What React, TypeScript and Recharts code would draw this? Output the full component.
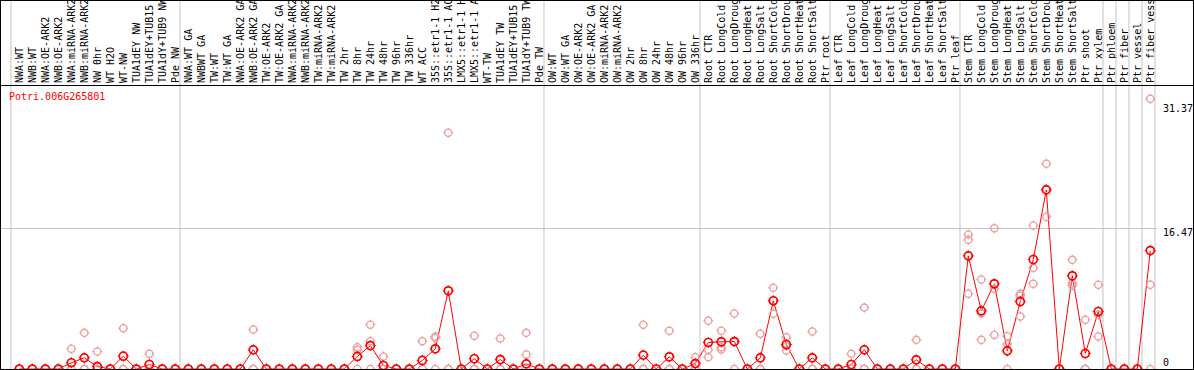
import React from "react";
import { ComposedChart, Line, XAxis, YAxis, ReferenceLine } from "recharts";

const gene = "Potri.006G265801";

const categories = [
  // NW block
  "NWA:WT", "NWB:WT", "NWA:OE-ARK2", "NWB:OE-ARK2", "NWA:miRNA-ARK2", "NWB:miRNA-ARK2",
  "NW 0hr", "WT H2O", "WT-NW", "TUA1dEY NW", "TUA1dEY+TUB15 NW", "TUA1dY+TUB9 NW", "Pde NW",
  // TW block
  "NWA:WT GA", "NWBWT GA", "TW:WT", "TW:WT GA", "NWA:OE-ARK2 GA", "NWB:OE-ARK2 GA",
  "TW:OE-ARK2", "TW:OE-ARK2 GA", "NWA:miRNA-ARK2", "NWB:miRNA-ARK2", "TW:miRNA-ARK2",
  "TW:miRNA-ARK2", "TW 2hr", "TW 8hr", "TW 24hr", "TW 48hr", "TW 96hr", "TW 336hr", "WT ACC",
  "35S::etr1-1 H2O", "35S::etr1-1 ACC", "LMX5::etr1-1 H2O", "LMX5::etr1-1 ACC", "WT-TW",
  "TUA1dEY TW", "TUA1dEY+TUB15 TW", "TUA1dY+TUB9 TW", "Pde TW",
  // OW block
  "OW:WT", "OW:WT GA", "OW:OE-ARK2", "OW:OE-ARK2 GA", "OW:miRNA-ARK2", "OW:miRNA-ARK2",
  "OW 2hr", "OW 8hr", "OW 24hr", "OW 48hr", "OW 96hr", "OW 336hr",
  // root
  "Root CTR", "Root LongCold", "Root LongDrought", "Root LongHeat", "Root LongSalt",
  "Root ShortCold", "Root ShortDrought", "Root ShortHeat", "Root ShortSalt", "Ptr root",
  // leaf
  "Leaf CTR", "Leaf LongCold", "Leaf LongDrought", "Leaf LongHeat", "Leaf LongSalt",
  "Leaf ShortCold", "Leaf ShortDrought", "Leaf ShortHeat", "Leaf ShortSalt", "Ptr leaf",
  // stem
  "Stem CTR", "Stem LongCold", "Stem LongDrought", "Stem LongHeat", "Stem LongSalt",
  "Stem ShortCold", "Stem ShortDrought", "Stem ShortHeat", "Stem ShortSalt", "Ptr shoot",
  "Ptr xylem",
  "Ptr phloem",
  "Ptr fiber",
  "Ptr vessel",
  "Ptr fiber vessel",
];

// mean expression per sample
const means = [
  0, 0, 0, 0, 0.73, 1.31, 0.29, 0, 1.5, 0, 0.53, 0, 0,
  0, 0, 0, 0, 0, 2.25, 0, 0, 0, 0, 0, 0, 0, 1.47, 2.75, 0.41, 0, 0, 1.0, 2.37, 9.17, 0, 1.2, 0, 1.11, 0, 0.6, 0,
  0, 0, 0, 0, 0, 0, 0, 1.62, 0, 1.43, 0, 0.64,
  3.11, 3.19, 3.22, 0, 1.31, 8.0, 2.87, 0, 1.31, 0,
  0, 0.53, 2.25, 0, 0, 0, 1.08, 0, 0, 0,
  13.27, 6.82, 9.99, 2.13, 7.91, 12.84, 21.0, 0, 10.93, 1.82, 6.74,
  0,
  0,
  0,
  13.89,
];

// replicates
const rep1 = [
  0, 0, 0, 0, 2.37, 4.24, 2.05, 0, 4.78, 0, 1.78, 0, 0,
  0, 0, 0, 0, 0, 4.63, 0, 0, 0, 0, 0, 0, 0, 2.56, 5.2, 1.47, 0, 0, 3.26, 3.81, 27.7, 0, 3.89, 0, 3.58, 0, 4.24, 0,
  0, 0, 0, 0, 0, 0, 0, 5.18, 0, 4.48, 0, 1.38,
  5.65, 4.48, 6.5, 0, 4.13, 9.52, 3.73, 0, 4.4, 0,
  0, 1.78, 7.2, 0, 0, 0, 3.42, 0, 0, 0,
  15.77, 10.49, 16.5, 3.85, 8.82, 16.82, 24.06, 0, 12.8, 5.77, 9.87,
  0,
  0,
  0,
  31.68,
];

const rep2 = [
  0, 0, 0, 0, 0, 0, 0, 0, 0, 0, 0, 0, 0,
  0, 0, 0, 0, 0, 0, 0, 0, 0, 0, 0, 0, 0, 2.25, 3.26, 0, 0, 0, 0, 3.61, 0, 0, 0, 0, 0, 0, 1.7, 0,
  0, 0, 0, 0, 0, 0, 0, 0, 0, 0, 0, 0,
  2.25, 2.56, 3.2, 0, 0, 8.0, 2.7, 0, 0, 0,
  0, 0, 0, 0, 0, 0, 0, 0, 0, 0,
  15.15, 6.55, 9.4, 2.91, 8.6, 11.86, 21.1, 0, 10.06, 0, 6.35,
  0,
  0,
  0,
  9.87,
];

const rep3 = [
  0, 0, 0, 0, 0, 0, 0, 0, 0, 0, 0, 0, 0,
  0, 0, 0, 0, 0, 0, 0, 0, 0, 0, 0, 0, 0, 0, 0, 0, 0, 0, 0, 0, 0, 0, 0, 0, 0, 0, 0, 0,
  0, 0, 0, 0, 0, 0, 0, 0, 0, 0, 0, 0,
  1.38, 2.29, 0, 0, 0, 6.47, 2.17, 0, 0, 0,
  0, 0, 0, 0, 0, 0, 0, 0, 0, 0,
  8.82, 3.42, 4.0, 0, 6.15, 9.99, 17.84, 0, 9.79, 0, 3.81,
  0,
  0,
  0,
  0,
];

// last sample index of each group (-1 = left edge)
const groupEnds = [-1, 12, 40, 52, 62, 72, 83, 84, 85, 86, 87];
const yTicks = [0, 16.47, 31.37];

const data = categories.map((name, i) => ({
  x: i,
  name,
  mean: means[i],
  r1: rep1[i],
  r2: rep2[i],
  r3: rep3[i],
}));

const separators = groupEnds.map((e) => e + 0.36);
const xTicks = [...categories.map((_, i) => i), ...separators];

const FONT = "'DejaVu Sans Mono', 'Liberation Mono', monospace";
const GRID = "#c4c4c4";
const RED = "#ff0000";
const PINK = "#eb9c9c";

const XTick = ({ x, y, payload }: any) => {
  const v = payload.value;
  if (!Number.isInteger(v)) {
    return <line x1={x} x2={x} y1={0} y2={y + 2} stroke={GRID} strokeWidth={1} />;
  }
  return (
    <text
      transform={`translate(${x + 3.6},${y}) rotate(-90)`}
      textAnchor="start"
      fontFamily={FONT}
      fontSize={10}
      fill="#000"
    >
      {categories[v]}
    </text>
  );
};

const YTick = ({ x, y, payload }: any) => {
  const v = payload.value;
  const dy = v === 0 ? -3.4 : v > 20 ? 10.2 : 7.1;
  return (
    <text x={x} y={y + dy} textAnchor="start" fontFamily={FONT} fontSize={10} fill="#000">
      {String(v)}
    </text>
  );
};

const ring = (color: string, r: number, w: number) => (props: any) => {
  const { cx, cy, index } = props;
  if (cx == null || cy == null) return <g key={index} />;
  return (
    <g key={index}>
      <circle cx={cx} cy={cy} r={r} fill="none" stroke={color} strokeWidth={w} />
      <line x1={cx} x2={cx} y1={cy - r - 1.5} y2={cy - r + 0.5} stroke={color} strokeWidth={1} />
      <line x1={cx} x2={cx} y1={cy + r - 0.5} y2={cy + r + 1.5} stroke={color} strokeWidth={1} />
      <line x1={cx - r - 1.5} x2={cx - r + 0.5} y1={cy} y2={cy} stroke={color} strokeWidth={1} />
      <line x1={cx + r - 0.5} x2={cx + r + 1.5} y1={cy} y2={cy} stroke={color} strokeWidth={1} />
    </g>
  );
};

export default function App() {
  return (
    <div style={{ position: "absolute", left: 0, top: 0, width: 1194, height: 370, background: "#fff" }}>
      <ComposedChart width={1194} height={370} data={data} margin={{ top: 0, right: 0, left: 0, bottom: 1 }}>
        <XAxis
          type="number"
          dataKey="x"
          orientation="top"
          height={85}
          domain={[-1.485, 87.515]}
          ticks={xTicks}
          interval={0}
          allowDataOverflow
          axisLine={false}
          tickLine={false}
          tickSize={0}
          tickMargin={2}
          tick={<XTick />}
        />
        <YAxis
          orientation="right"
          width={37}
          domain={[0, 33.3]}
          ticks={yTicks}
          interval={0}
          allowDataOverflow
          axisLine={false}
          tickLine={false}
          tickSize={0}
          tickMargin={6}
          tick={<YTick />}
        />
        {separators.map((v) => (
          <ReferenceLine key={v} x={v} stroke={GRID} strokeWidth={1} />
        ))}
        <ReferenceLine y={yTicks[1]} stroke={GRID} strokeWidth={1} />
        <Line dataKey="r1" stroke="none" dot={ring(PINK, 3.6, 1.3)} activeDot={false} isAnimationActive={false} />
        <Line dataKey="r2" stroke="none" dot={ring(PINK, 3.6, 1.3)} activeDot={false} isAnimationActive={false} />
        <Line dataKey="r3" stroke="none" dot={ring(PINK, 3.6, 1.3)} activeDot={false} isAnimationActive={false} />
        <Line
          dataKey="mean"
          stroke={RED}
          strokeWidth={1}
          dot={ring(RED, 4, 1.7)}
          activeDot={false}
          isAnimationActive={false}
        />
      </ComposedChart>
      <div
        style={{
          position: "absolute",
          left: 9,
          top: 91,
          color: RED,
          fontFamily: FONT,
          fontSize: 10,
          lineHeight: "12px",
        }}
      >
        {gene}
      </div>
      <div style={{ position: "absolute", left: 0, top: 85, width: 1194, height: 1, background: "#000" }} />
      <div
        style={{
          position: "absolute",
          left: 0,
          top: 0,
          width: 1194,
          height: 370,
          boxSizing: "border-box",
          border: "1px solid #000",
          pointerEvents: "none",
        }}
      />
    </div>
  );
}
